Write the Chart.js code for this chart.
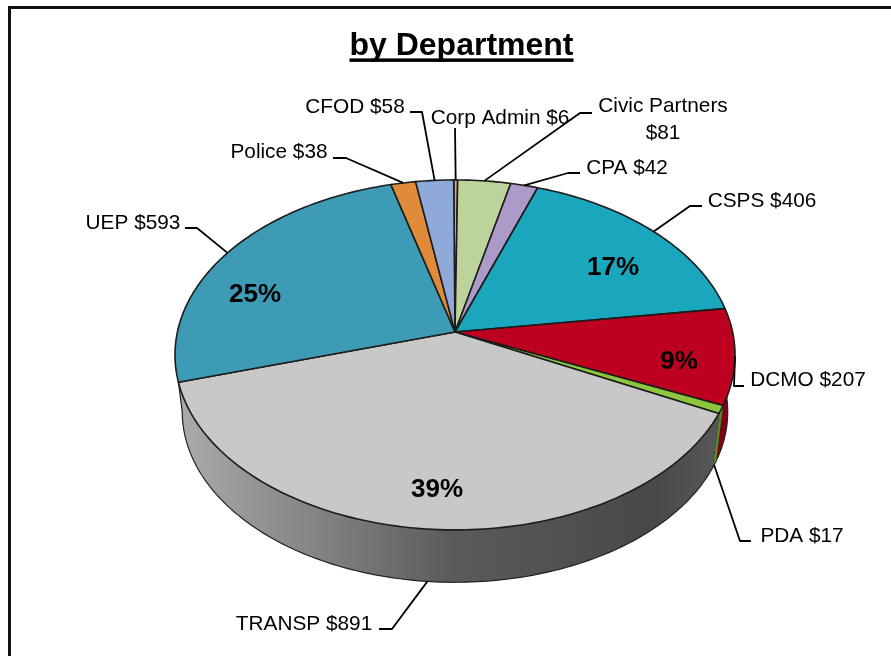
<!DOCTYPE html>
<html>
<head>
    <meta charset="UTF-8">
    <title>by Department</title>
    <script src="https://cdnjs.cloudflare.com/ajax/libs/Chart.js/4.4.1/chart.umd.min.js"></script>
    <style>
        html, body { margin: 0; padding: 0; background: #fff; }
        canvas { display: block; }
    </style>
</head>

<body>
    <canvas id="chart" width="891" height="656"></canvas>

    <script>
        // Data, clockwise from 12 o'clock
        var departments = ['Corp Admin', 'Civic Partners', 'CPA', 'CSPS', 'DCMO', 'PDA', 'TRANSP', 'UEP', 'Police', 'CFOD'];
        var amounts = [6, 81, 42, 406, 207, 17, 891, 593, 38, 58];
        var sliceColors = ['#D9A28C', '#BCD39B', '#AC9BC8', '#1AA6BC', '#BE0020', '#8CC63F', '#C8C8C8', '#3D9BB5', '#E08B3A', '#8FA9D8'];
        var percentLabels = ['', '', '', '17%', '9%', '', '39%', '25%', '', ''];

        // Layout of the callouts: text centre, elbow, and where the stub starts
        var calloutText = [[500, 118], [663, 106], [627, 168], [762, 201], [808, 380], [802, 536], [304, 624], [133, 223], [279, 152], [355, 107]];
        var calloutStub = [[455, 128], [592, 113], [580, 173], [702, 206], [744, 386], [751, 541], [379, 629], [185, 228], [333, 158], [410, 112]];
        var calloutElbow = [[455, 128], [580, 113], [568, 173], [690, 206], [734, 386], [740, 541], [392, 629], [197, 228], [346, 158], [422, 112]];
        var percentPos = [null, null, null, [613, 268], [679, 362], null, [437, 490], [255, 295], null, null];

        // Perspective of the pie: apex, scale and tilt
        var apexX = 455, apexY = 332, scaleU = 277.6, scaleV = 172, tilt = -0.131;
        // Bottom edge of the wall is the top rim shrunk and moved down
        var wallShrink = 0.974, wallDrop = 57.5;

        function project(angle, lower) {
            var u = Math.cos(angle), v = Math.sin(angle);
            var w = 1 + tilt * v;
            var x = scaleU * u / w, y = scaleV * v / w;
            if (lower) {
                x = x * wallShrink;
                y = y * wallShrink + wallDrop;
            }
            return [apexX + x, apexY + y];
        }

        function rimPoints(start, end, lower) {
            var pts = [];
            var steps = Math.max(2, Math.ceil((end - start) / 0.02));
            for (var i = 0; i <= steps; i++) {
                pts.push(project(start + (end - start) * i / steps, lower));
            }
            return pts;
        }

        function tracePoints(ctx, pts) {
            for (var i = 0; i < pts.length; i++) {
                ctx.lineTo(pts[i][0], pts[i][1]);
            }
        }

        // Draws the library's arcs (their angles and colours) tilted, with a side wall
        var tiltedPie = {
            id: 'tiltedPie',
            beforeDraw: function(chart) {
                var ctx = chart.ctx;
                ctx.save();
                ctx.fillStyle = '#111';
                ctx.fillRect(8, 6, 883, 3);
                ctx.fillRect(8, 6, 3, 650);
                ctx.restore();
            },
            beforeDatasetsDraw: function(chart) {
                var ctx = chart.ctx;
                var arcs = chart.getDatasetMeta(0).data;
                ctx.save();
                ctx.lineJoin = 'round';

                // wall
                var shade = ctx.createLinearGradient(175, 0, 735, 0);
                shade.addColorStop(0, 'rgba(0,0,0,0.14)');
                shade.addColorStop(0.25, 'rgba(0,0,0,0.34)');
                shade.addColorStop(0.5, 'rgba(0,0,0,0.55)');
                shade.addColorStop(0.85, 'rgba(0,0,0,0.64)');
                shade.addColorStop(1, 'rgba(0,0,0,0.55)');
                arcs.forEach(function(arc, i) {
                    // back slices have no visible wall
                    if (Math.sin((arc.startAngle + arc.endAngle) / 2) < 0) {
                        return;
                    }
                    var isFront = departments[i] == 'TRANSP';
                    // the front wall runs on to the left-most point of the lower rim
                    var lowerEnd = isFront ? Math.PI - Math.asin(-tilt) : arc.endAngle;
                    var top = rimPoints(arc.startAngle, arc.endAngle, false);
                    var bottom = rimPoints(arc.startAngle, lowerEnd, true).reverse();
                    ctx.beginPath();
                    tracePoints(ctx, top);
                    tracePoints(ctx, bottom);
                    ctx.closePath();
                    ctx.fillStyle = arc.options.backgroundColor;
                    ctx.fill();
                    // the big front slice gets the full gradient, the rest just darken
                    ctx.fillStyle = isFront ? shade : 'rgba(0,0,0,0.32)';
                    ctx.fill();
                    ctx.beginPath();
                    tracePoints(ctx, [top[top.length - 1]]);
                    tracePoints(ctx, bottom);
                    ctx.strokeStyle = '#222';
                    ctx.lineWidth = 1.2;
                    ctx.stroke();
                });

                // top face
                arcs.forEach(function(arc) {
                    ctx.beginPath();
                    ctx.moveTo(apexX, apexY);
                    tracePoints(ctx, rimPoints(arc.startAngle, arc.endAngle, false));
                    ctx.closePath();
                    ctx.fillStyle = arc.options.backgroundColor;
                    ctx.fill();
                    ctx.strokeStyle = '#1c1c1c';
                    ctx.lineWidth = 1.6;
                    ctx.stroke();
                });

                // callouts
                ctx.strokeStyle = '#000';
                ctx.lineWidth = 1.8;
                ctx.fillStyle = '#000';
                ctx.textAlign = 'center';
                ctx.textBaseline = 'middle';
                ctx.font = '20.8px "Liberation Sans", Arial, sans-serif';
                arcs.forEach(function(arc, i) {
                    var mid = (arc.startAngle + arc.endAngle) / 2;
                    // front slices are labelled from the bottom of the wall
                    var onWall = Math.sin(mid) > 0.4;
                    var end = project(mid, onWall);
                    ctx.beginPath();
                    ctx.moveTo(calloutStub[i][0], calloutStub[i][1]);
                    ctx.lineTo(calloutElbow[i][0], calloutElbow[i][1]);
                    ctx.lineTo(end[0], end[1]);
                    ctx.stroke();

                    var label = departments[i] + ' $' + amounts[i];
                    if (departments[i] == 'Civic Partners') {
                        ctx.fillText(departments[i], calloutText[i][0], calloutText[i][1]);
                        ctx.fillText('$' + amounts[i], calloutText[i][0], calloutText[i][1] + 27);
                    } else {
                        ctx.fillText(label, calloutText[i][0], calloutText[i][1]);
                    }
                });

                // percentages
                ctx.font = 'bold 26px "Liberation Sans", Arial, sans-serif';
                percentLabels.forEach(function(text, i) {
                    if (text) {
                        ctx.fillText(text, percentPos[i][0], percentPos[i][1]);
                    }
                });
                ctx.restore();
                return false;
            },
            afterDraw: function(chart) {
                // the title plugin has no underline option
                var ctx = chart.ctx;
                var t = chart.options.plugins.title;
                var box = chart.titleBlock;
                ctx.save();
                ctx.font = 'bold ' + t.font.size + 'px ' + t.font.family;
                var w = ctx.measureText(t.text).width;
                var cx = (chart.chartArea.left + chart.chartArea.right) / 2;
                ctx.fillStyle = '#000';
                ctx.fillRect(cx - w / 2, box.bottom - 20, w, 3.5);
                ctx.restore();
            }
        };

        var myChart = new Chart(document.getElementById('chart').getContext('2d'), {
            type: 'pie',
            data: {
                labels: departments,
                datasets: [{
                    data: amounts,
                    backgroundColor: sliceColors,
                    borderWidth: 0
                }]
            },
            options: {
                responsive: false,
                animation: false,
                rotation: -0.3,
                layout: { padding: { left: 32, top: 27, right: 0, bottom: 10 } },
                plugins: {
                    legend: { display: false },
                    tooltip: { enabled: false },
                    title: {
                        display: true,
                        text: 'by Department',
                        color: '#000',
                        font: { family: '"Liberation Sans", Arial, sans-serif', size: 32, weight: 'bold' },
                        padding: { top: 0, bottom: 13 }
                    }
                }
            },
            plugins: [tiltedPie]
        });
    </script>
</body>
</html>
